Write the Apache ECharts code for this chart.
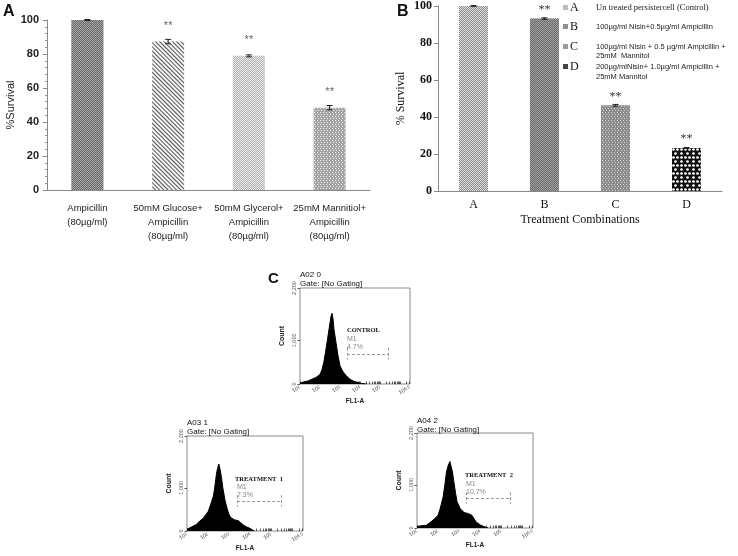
<!DOCTYPE html>
<html>
<head>
<meta charset="utf-8">
<script src="https://cdn.jsdelivr.net/npm/echarts@6/dist/echarts.min.js"></script>
<style>
html,body{margin:0;padding:0;background:#fff;}
#chart{width:738px;height:556px;}
</style>
</head>
<body>
<div id="chart"></div>
<script>
// ---------- Panel A data ----------
const catsA = ['Ampicillin\n(80µg/ml)', '50mM Glucose+\nAmpicillin\n(80µg/ml)', '50mM Glycerol+\nAmpicillin\n(80µg/ml)', '25mM Mannitiol+\nAmpicillin\n(80µg/ml)'];
const survivalA = [100, 87.3, 78.9, 48.4];
const errA = [0.3, 1.3, 0.6, 1.3];
const sigA = ['', '**', '**', '**'];

// ---------- Panel B data ----------
const catsB = ['A', 'B', 'C', 'D'];
const survivalB = [100, 93.2, 46.3, 23.2];
const errB = [0.2, 0.4, 0.5, 0.3];
const sigB = ['', '**', '**', '**'];
const legendLettersB = ['A', 'B', 'C', 'D'];
const legendTextB = [
  ['Un treated persistercell (Control)'],
  ['100µg/ml Nisin+0.5µg/ml Ampicillin'],
  ['100µg/ml Nisin + 0.5 µg/ml Ampicillin +', '25mM  Mannitol'],
  ['200µg/mlNisin+ 1.0µg/ml Ampicillin +', '25mM Mannitol']
];

// ---------- Panel C data (log10 FL1-A, count) ----------
const ctrlLogFL1 = [1.0, 1.2, 1.4, 1.6, 1.8, 2.0, 2.1, 2.2, 2.3, 2.4, 2.5, 2.55, 2.6, 2.65, 2.7, 2.8, 2.9, 3.0, 3.1, 3.2, 3.35, 3.5, 3.7, 3.9, 4.1, 4.3];
const ctrlCount  = [20, 50, 70, 110, 150, 220, 330, 520, 800, 1100, 1400, 1550, 1620, 1500, 1250, 950, 650, 420, 320, 250, 170, 110, 60, 30, 10, 0];
const t1LogFL1 = [1.0, 1.2, 1.44, 1.6, 1.76, 2.0, 2.1, 2.24, 2.3, 2.4, 2.45, 2.51, 2.57, 2.63, 2.7, 2.8, 2.9, 3.0, 3.1, 3.27, 3.43, 3.55, 3.67, 3.8, 3.98, 4.1, 4.2];
const t1Count  = [40, 90, 150, 230, 290, 450, 580, 795, 950, 1335, 1450, 1552, 1420, 1258, 1000, 718, 520, 370, 300, 255, 240, 190, 140, 100, 62, 25, 0];
const t2LogFL1 = [1.0, 1.2, 1.44, 1.6, 1.76, 2.0, 2.1, 2.24, 2.32, 2.4, 2.48, 2.56, 2.62, 2.68, 2.76, 2.83, 2.9, 3.05, 3.2, 3.3, 3.43, 3.6, 3.7, 3.8, 4.0, 4.14, 4.38];
const t2Count  = [40, 50, 62, 120, 180, 295, 450, 723, 1000, 1306, 1450, 1540, 1500, 1300, 1034, 800, 606, 450, 373, 350, 334, 295, 220, 140, 70, 40, 0];
const sampleIds = ['A02 0', 'A03 1', 'A04 2'];
const sampleNames = ['CONTROL', 'TREATMENT  1', 'TREATMENT  2'];
const gateNames = ['M1', 'M1', 'M1'];
const gatePct = ['4.7%', '7.3%', '10.7%'];
const gateLog = [[3.35, 5.4], [3.38, 5.46], [3.32, 5.44]];
const gateLevel = 690;
const facsXLabels = [1, 2, 3, 4, 5, 6.5];
const facsYLabels = [0, 1000, 2200];

// ---------- helpers ----------
const chk = (c) => ({symbol: 'rect', symbolSize: 1, dashArrayX: [[1, 1], [0, 1, 1, 0]], dashArrayY: [1, 0], color: c});
const dots = (c) => ({symbol: 'rect', symbolSize: 1, dashArrayX: [[1, 2], [0, 2, 1, 0]], dashArrayY: [1, 1], color: c});
const stylesA = [
  {color: '#a8a8a8', decal: chk('#666666')},
  {color: '#f4f4f4', decal: {symbol: 'rect', symbolSize: 1, dashArrayX: [1, 0], dashArrayY: [1, 2], rotation: Math.PI / 4, color: '#555555'}},
  {color: '#e8e8e8', decal: chk('#b4b4b4')},
  {color: '#a4a4a4', decal: dots('#f0f0f0')}
];
const stylesB = [
  {color: '#dcdcdc', decal: chk('#8e8e8e')},
  {color: '#a0a0a0', decal: chk('#6c6c6c')},
  {color: '#8c8c8c', decal: dots('#d0d0d0')},
  {color: '#111111', decal: {symbol: 'circle', symbolSize: 0.9, dashArrayX: [[3, 1], [0, 2, 3, 1]], dashArrayY: [3, 1], color: '#ffffff'}}
];

function errRender(params, api) {
  const x = api.value(0), lo = api.value(1), hi = api.value(2);
  const p1 = api.coord([x, hi]), p2 = api.coord([x, lo]);
  const w = 3;
  const st = {stroke: '#222', lineWidth: 1};
  return {type: 'group', children: [
    {type: 'line', shape: {x1: p1[0], y1: p1[1], x2: p2[0], y2: p2[1]}, style: st},
    {type: 'line', shape: {x1: p1[0] - w, y1: p1[1], x2: p1[0] + w, y2: p1[1]}, style: st},
    {type: 'line', shape: {x1: p2[0] - w, y1: p2[1], x2: p2[0] + w, y2: p2[1]}, style: st}
  ]};
}

const minorLog = [];
for (let n = 1; n <= 6; n++) {
  for (let k = 1; k <= 9; k++) {
    const v = n + Math.log10(k);
    if (v <= 6.5) minorLog.push(+v.toFixed(4));
  }
}

const facsGrids = [
  {left: 300, top: 288, width: 110, height: 96},
  {left: 187, top: 436, width: 116, height: 95},
  {left: 417, top: 433, width: 116, height: 95}
];

const grids = [
  {left: 47, top: 20, width: 323, height: 170},
  {left: 438, top: 6, width: 284, height: 185}
].concat(facsGrids.map(g => Object.assign({show: true, borderColor: '#8a8a8a', borderWidth: 1, backgroundColor: 'transparent'}, g)));

const sansA = '"Liberation Sans", Arial, sans-serif';
const serif = '"Liberation Serif", "DejaVu Serif", serif';

const xAxes = [
  {gridIndex: 0, type: 'category', data: catsA,
    axisLine: {lineStyle: {color: '#888'}}, axisTick: {length: 4, lineStyle: {color: '#888'}},
    axisLabel: {interval: 0, fontFamily: sansA, fontSize: 9.5, lineHeight: 14, color: '#222', margin: 11}},
  {gridIndex: 1, type: 'category', data: catsB,
    axisLine: {lineStyle: {color: '#888'}}, axisTick: {length: 4, lineStyle: {color: '#888'}},
    axisLabel: {fontFamily: serif, fontSize: 12, color: '#111', margin: 8},
    name: 'Treatment Combinations', nameLocation: 'middle', nameGap: 23,
    nameTextStyle: {fontFamily: serif, fontSize: 12, color: '#111'}}
];
const yAxes = [
  {gridIndex: 0, type: 'value', min: 0, max: 100, interval: 20,
    axisLine: {show: true, lineStyle: {color: '#888'}}, axisTick: {show: true, length: 4, lineStyle: {color: '#888'}},
    minorTick: {show: true, splitNumber: 5, length: 2, lineStyle: {color: '#999'}},
    splitLine: {show: false},
    axisLabel: {fontFamily: '"Liberation Sans", Arial, sans-serif', fontWeight: 'bold', fontSize: 11, color: '#222', margin: 8},
    name: '%Survival', nameLocation: 'middle', nameGap: 29, nameRotate: 90,
    nameTextStyle: {fontFamily: '"Liberation Sans", Arial, sans-serif', fontSize: 11, color: '#222'}},
  {gridIndex: 1, type: 'value', min: 0, max: 100, interval: 20,
    axisLine: {show: true, lineStyle: {color: '#888'}}, axisTick: {show: true, length: 4, lineStyle: {color: '#888'}},
    splitLine: {show: false},
    axisLabel: {fontFamily: serif, fontWeight: 'bold', fontSize: 12, color: '#111', margin: 6},
    name: '% Survival', nameLocation: 'middle', nameGap: 31, nameRotate: 90,
    nameTextStyle: {fontFamily: serif, fontSize: 12, color: '#111'}}
];

facsGrids.forEach((g, i) => {
  xAxes.push({gridIndex: i + 2, type: 'value', min: 1, max: 6.5,
    axisLine: {show: false}, splitLine: {show: false},
    axisTick: {show: true, inside: true, length: 2.5, customValues: minorLog, lineStyle: {color: '#333', width: 0.8}},
    axisLabel: {customValues: facsXLabels, rotate: 30, margin: 3, color: '#444',
      formatter: v => '{b|10}{s|' + v + '}',
      rich: {b: {fontSize: 5.5, fontFamily: 'Arial, sans-serif'}, s: {fontSize: 4.5, verticalAlign: 'top', fontFamily: 'Arial, sans-serif'}}},
    name: 'FL1-A', nameLocation: 'middle', nameGap: 13,
    nameTextStyle: {fontSize: 6.5, fontWeight: 'bold', fontFamily: 'Arial, sans-serif', color: '#222'}});
  yAxes.push({gridIndex: i + 2, type: 'value', min: 0, max: 2200,
    axisLine: {show: false}, splitLine: {show: false},
    axisTick: {show: true, length: 2.5, customValues: facsYLabels, lineStyle: {color: '#555'}},
    axisLabel: {customValues: facsYLabels, rotate: 90, margin: 3, fontSize: 5.5, color: '#555', fontFamily: 'Arial, sans-serif',
      formatter: v => v.toLocaleString('en-US')},
    name: 'Count', nameLocation: 'middle', nameGap: 14, nameRotate: 90,
    nameTextStyle: {fontSize: 7, fontWeight: 'bold', fontFamily: 'Arial, sans-serif', color: '#222'}});
});

const series = [
  {type: 'bar', xAxisIndex: 0, yAxisIndex: 0, barWidth: 32,
    data: survivalA.map((v, i) => ({value: v, itemStyle: stylesA[i]})),
    label: {show: true, position: 'top', distance: 10, color: '#666', fontSize: 11, fontFamily: '"Liberation Sans", Arial',
      formatter: p => sigA[p.dataIndex]}},
  {type: 'custom', xAxisIndex: 0, yAxisIndex: 0, renderItem: errRender, z: 5,
    data: survivalA.map((v, i) => [i, v - errA[i], v + errA[i]])},
  {type: 'bar', xAxisIndex: 1, yAxisIndex: 1, barWidth: 29,
    data: survivalB.map((v, i) => ({value: v, itemStyle: stylesB[i]})),
    label: {show: true, position: 'top', distance: 3, color: '#333', fontSize: 12, fontFamily: serif,
      formatter: p => sigB[p.dataIndex]}},
  {type: 'custom', xAxisIndex: 1, yAxisIndex: 1, renderItem: errRender, z: 5,
    data: survivalB.map((v, i) => [i, v - errB[i], v + errB[i]])}
];

const hist = [[ctrlLogFL1, ctrlCount], [t1LogFL1, t1Count], [t2LogFL1, t2Count]];
hist.forEach((h, i) => {
  const gl = gateLog[i];
  const seg = (a, b) => [{coord: a}, {coord: b}];
  series.push({type: 'line', xAxisIndex: i + 2, yAxisIndex: i + 2, symbol: 'none',
    data: h[0].map((x, j) => [x, h[1][j]]),
    lineStyle: {color: '#000', width: 1}, areaStyle: {color: '#000', opacity: 1},
    markLine: {silent: true, symbol: 'none', label: {show: false},
      lineStyle: {color: '#999', type: [3, 2], width: 1},
      data: [seg([gl[0], 830], [gl[0], 560]), seg([gl[0], gateLevel], [gl[1], gateLevel]), seg([gl[1], 830], [gl[1], 560])]}});
});

// ---------- text overlays ----------
const graphic = [
  {type: 'text', left: 3, top: 4, style: {text: 'A', font: 'bold 16px "Liberation Sans", Arial', fill: '#111'}},
  {type: 'text', left: 397, top: 4, style: {text: 'B', font: 'bold 16px "Liberation Sans", Arial', fill: '#111'}},
  {type: 'text', left: 268, top: 271, style: {text: 'C', font: 'bold 15px "Liberation Sans", Arial', fill: '#111'}}
];
const legendRowsY = [[8], [27], [47, 56], [67, 77]];
const legendIcon = ['#bdbdbd', '#8f8f8f', '#9a9a9a', '#444'];
legendLettersB.forEach((L, i) => {
  const y = legendRowsY[i][0];
  graphic.push({type: 'rect', shape: {x: 563, y: y - 3, width: 5, height: 5}, style: {fill: legendIcon[i]}});
  graphic.push({type: 'text', x: 570, y: y, style: {text: L, font: '12px ' + serif, fill: '#111', verticalAlign: 'middle'}});
  legendTextB[i].forEach((t, k) => {
    graphic.push({type: 'text', x: 596, y: legendRowsY[i][k],
      style: {text: t, font: (i === 0 ? '8.5px ' + serif : '7.5px "Liberation Sans", Arial'), fill: '#222', verticalAlign: 'middle'}});
  });
});
const facsText = [
  {id: [300, 275], gate: [300, 284], name: [347, 330], m1: [347, 339], pct: [347, 347]},
  {id: [187, 423], gate: [187, 432], name: [235, 479], m1: [237, 487], pct: [237, 495]},
  {id: [417, 421], gate: [417, 430], name: [465, 475], m1: [466, 484], pct: [466, 492]}
];
facsText.forEach((p, i) => {
  const t = (pos, text, font, fill) => graphic.push({type: 'text', x: pos[0], y: pos[1],
    style: {text: text, font: font, fill: fill, verticalAlign: 'middle'}});
  t(p.id, sampleIds[i], '8px "Liberation Sans", Arial', '#111');
  t(p.gate, 'Gate: [No Gating]', '8px "Liberation Sans", Arial', '#111');
  t(p.name, sampleNames[i], 'bold 6.5px ' + serif, '#111');
  t(p.m1, gateNames[i], '7px "Liberation Sans", Arial', '#888');
  t(p.pct, gatePct[i], '7px "Liberation Sans", Arial', '#888');
});

const chart = echarts.init(document.getElementById('chart'), null, {renderer: 'canvas'});
chart.setOption({
  animation: false,
  backgroundColor: '#fff',
  grid: grids,
  xAxis: xAxes,
  yAxis: yAxes,
  series: series,
  graphic: graphic
});
</script>
</body>
</html>
